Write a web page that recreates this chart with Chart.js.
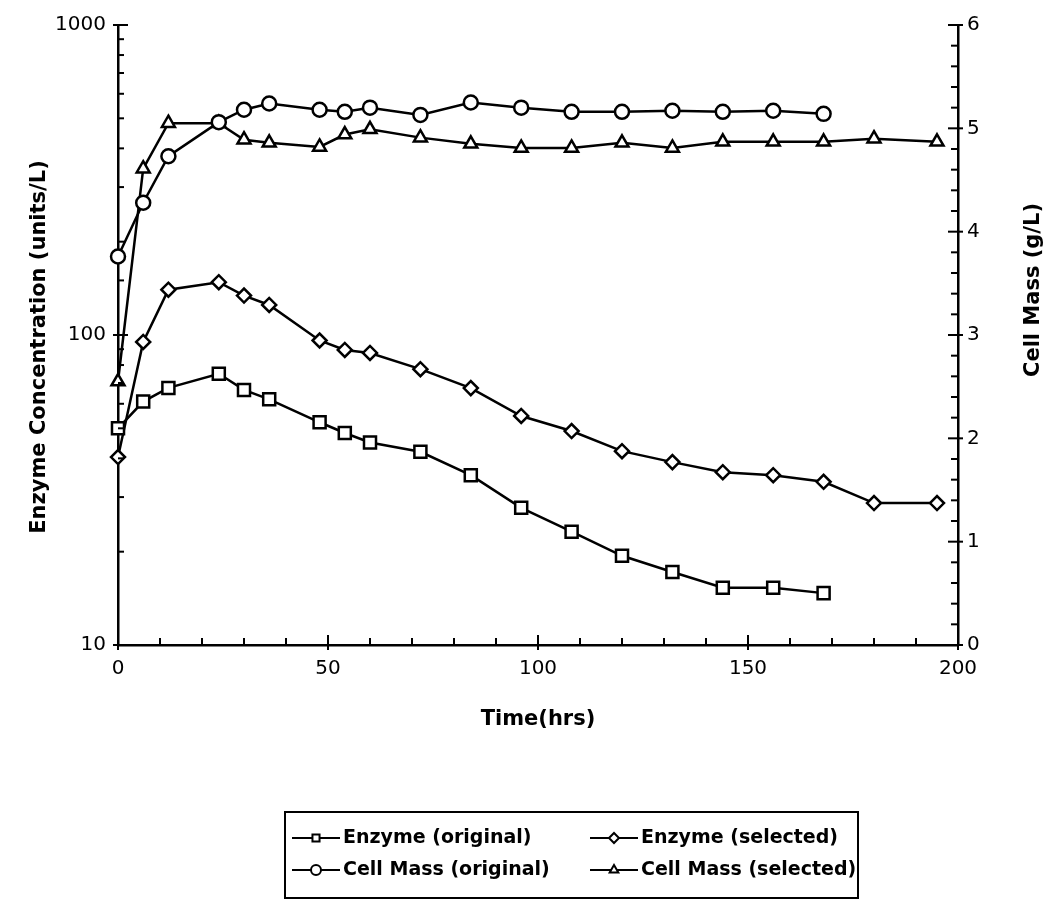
<!DOCTYPE html>
<html>
<head>
<meta charset="utf-8">
<script src="https://cdn.jsdelivr.net/npm/chart.js@4.4.1/dist/chart.umd.min.js"></script>
<style>
    html, body { margin: 0; padding: 0; background: #fff; }
</style>
</head>
<body>
<canvas id="myChart" width="1049" height="901"></canvas>
<script>
// sampling times (hrs)
const timeOriginal = [0, 6, 12, 24, 30, 36, 48, 54, 60, 72, 84, 96, 108, 120, 132, 144, 156, 168];
const timeSelected = [0, 6, 12, 24, 30, 36, 48, 54, 60, 72, 84, 96, 108, 120, 132, 144, 156, 168, 180, 195];

// enzyme concentration (units/L), log axis
const enzymeOriginal = [50, 61, 67.5, 75, 66.5, 62, 52.3, 48.3, 45, 42, 35.3, 27.7, 23.2, 19.4, 17.2, 15.3, 15.3, 14.7];
const enzymeSelected = [40.4, 95, 140, 148, 134, 125, 96, 89.5, 87.5, 77.6, 67.4, 54.8, 49, 42.2, 38.9, 36.1, 35.3, 33.6, 28.7, 28.7];

// cell mass (g/L), right axis
const cellMassOriginal = [3.76, 4.28, 4.73, 5.06, 5.18, 5.24, 5.18, 5.16, 5.2, 5.13, 5.25, 5.2, 5.16, 5.16, 5.17, 5.16, 5.17, 5.14];
const cellMassSelected = [2.55, 4.61, 5.05, 5.05, 4.89, 4.86, 4.82, 4.94, 4.99, 4.91, 4.85, 4.81, 4.81, 4.86, 4.81, 4.87, 4.87, 4.87, 4.9, 4.87];

const seriesNames = ['Enzyme (original)', 'Enzyme (selected)', 'Cell Mass (original)', 'Cell Mass (selected)'];

// labelled ticks
const xTickLabels = [0, 50, 100, 150, 200];
const enzymeTickLabels = [10, 100, 1000];
const cellMassTickLabels = [0, 1, 2, 3, 4, 5, 6];

const FONT = 'DejaVu Sans';

function pts(xs, ys) {
    return xs.map(function (x, i) { return { x: x, y: ys[i] }; });
}

function hasLabel(list, v) {
    return list.some(function (l) { return Math.abs(l - v) < 1e-6; });
}

function series(label, data, style, radius, axis) {
    return {
        label: label,
        data: data,
        yAxisID: axis,
        showLine: true,
        borderColor: '#000',
        borderWidth: 2.5,
        pointStyle: style,
        pointRadius: radius,
        pointBorderWidth: 2.5,
        pointBackgroundColor: '#fff',
        pointBorderColor: '#000',
        tension: 0,
        clip: false
    };
}

// tick marks pointing into the plot, the labelled ones cross the axis
const inwardTicks = {
    id: 'inwardTicks',
    afterDraw: function (chart) {
        const ctx = chart.ctx;
        const area = chart.chartArea;
        ctx.save();
        ctx.strokeStyle = '#000';
        ctx.lineWidth = 2;
        const xs = chart.scales.x;
        xs.ticks.forEach(function (t) {
            const px = xs.getPixelForValue(t.value);
            const major = hasLabel(xTickLabels, t.value);
            ctx.beginPath();
            ctx.moveTo(px, area.bottom + (major ? 5 : 0));
            ctx.lineTo(px, area.bottom - (major ? 10 : 7));
            ctx.stroke();
        });
        const yl = chart.scales.y;
        yl.ticks.forEach(function (t) {
            const py = yl.getPixelForValue(t.value);
            const major = hasLabel(enzymeTickLabels, t.value);
            ctx.beginPath();
            ctx.moveTo(area.left - (major ? 5 : 0), py);
            ctx.lineTo(area.left + (major ? 10 : 6), py);
            ctx.stroke();
        });
        const yr = chart.scales.y2;
        yr.ticks.forEach(function (t) {
            const py = yr.getPixelForValue(t.value);
            const major = hasLabel(cellMassTickLabels, t.value);
            ctx.beginPath();
            ctx.moveTo(area.right + (major ? 5 : 0), py);
            ctx.lineTo(area.right - (major ? 10 : 7), py);
            ctx.stroke();
        });
        ctx.restore();
    }
};

// axis titles
const axisTitles = {
    id: 'axisTitles',
    afterDraw: function (chart) {
        const ctx = chart.ctx;
        const area = chart.chartArea;
        ctx.save();
        ctx.fillStyle = '#000';
        ctx.font = 'bold 21px "' + FONT + '"';
        ctx.textAlign = 'center';
        ctx.textBaseline = 'middle';

        ctx.fillText('Time(hrs)', (area.left + area.right) / 2, 720);

        ctx.save();
        ctx.translate(40, 347);
        ctx.rotate(-Math.PI / 2);
        ctx.fillText('Enzyme Concentration (units/L)', 0, 0);
        ctx.restore();

        ctx.save();
        ctx.translate(1034, 290);
        ctx.rotate(-Math.PI / 2);
        ctx.fillText('Cell Mass (g/L)', 0, 0);
        ctx.restore();
        ctx.restore();
    }
};

// boxed two-column legend
const boxLegend = {
    id: 'boxLegend',
    afterDraw: function (chart) {
        const ctx = chart.ctx;
        const colX = [292, 590];
        const rowY = [838, 870];
        ctx.save();
        ctx.strokeStyle = '#000';
        ctx.lineWidth = 2;
        ctx.strokeRect(285, 812, 573, 86);
        ctx.font = 'bold 19px "' + FONT + '"';
        ctx.textBaseline = 'middle';
        ctx.textAlign = 'left';
        chart.data.datasets.forEach(function (ds, i) {
            const x = colX[i % 2];
            const y = rowY[Math.floor(i / 2)];
            ctx.strokeStyle = '#000';
            ctx.lineWidth = 2;
            ctx.beginPath();
            ctx.moveTo(x, y);
            ctx.lineTo(x + 48, y);
            ctx.stroke();
            ctx.fillStyle = '#fff';
            Chart.helpers.drawPoint(ctx, {
                pointStyle: ds.pointStyle,
                radius: 5,
                rotation: 0,
                borderWidth: 2
            }, x + 24, y);
            ctx.fillStyle = '#000';
            ctx.fillText(ds.label, x + 51, y);
        });
        ctx.restore();
    }
};

const ctx = document.getElementById('myChart').getContext('2d');

const myChart = new Chart(ctx, {
    type: 'scatter',
    data: {
        datasets: [
            series(seriesNames[0], pts(timeOriginal, enzymeOriginal), 'rect', 8.5, 'y'),
            series(seriesNames[1], pts(timeSelected, enzymeSelected), 'rectRot', 7, 'y'),
            series(seriesNames[2], pts(timeOriginal, cellMassOriginal), 'circle', 7, 'y2'),
            series(seriesNames[3], pts(timeSelected, cellMassSelected), 'triangle', 7.5, 'y2')
        ]
    },
    options: {
        responsive: false,
        animation: false,
        layout: {
            padding: { top: 25, bottom: 156, left: 0, right: 0 }
        },
        plugins: {
            legend: { display: false },
            tooltip: { enabled: false }
        },
        scales: {
            x: {
                type: 'linear',
                position: 'bottom',
                min: 0,
                max: 200,
                grid: { display: false, drawTicks: false },
                border: { display: true, color: '#000', width: 2.5 },
                ticks: {
                    stepSize: 10,
                    autoSkip: false,
                    maxRotation: 0,
                    padding: 12,
                    color: '#000',
                    font: { family: FONT, size: 20 },
                    callback: function (v) { return hasLabel(xTickLabels, v) ? String(v) : ''; }
                },
                afterFit: function (scale) { scale.height = 100; }
            },
            y: {
                type: 'logarithmic',
                position: 'left',
                min: 10,
                max: 1000,
                grid: { display: false, drawTicks: false },
                border: { display: true, color: '#000', width: 2.5 },
                ticks: {
                    autoSkip: false,
                    padding: 12,
                    color: '#000',
                    font: { family: FONT, size: 20 },
                    callback: function (v) { return hasLabel(enzymeTickLabels, v) ? String(v) : ''; }
                },
                afterFit: function (scale) { scale.width = 118; }
            },
            y2: {
                type: 'linear',
                position: 'right',
                min: 0,
                max: 6,
                grid: { display: false, drawTicks: false },
                border: { display: true, color: '#000', width: 2.5 },
                ticks: {
                    stepSize: 0.2,
                    autoSkip: false,
                    padding: 9,
                    color: '#000',
                    font: { family: FONT, size: 20 },
                    callback: function (v) { return hasLabel(cellMassTickLabels, v) ? String(Math.round(v)) : ''; }
                },
                afterFit: function (scale) { scale.width = 91; }
            }
        }
    },
    plugins: [inwardTicks, axisTitles, boxLegend]
});
</script>
</body>
</html>
